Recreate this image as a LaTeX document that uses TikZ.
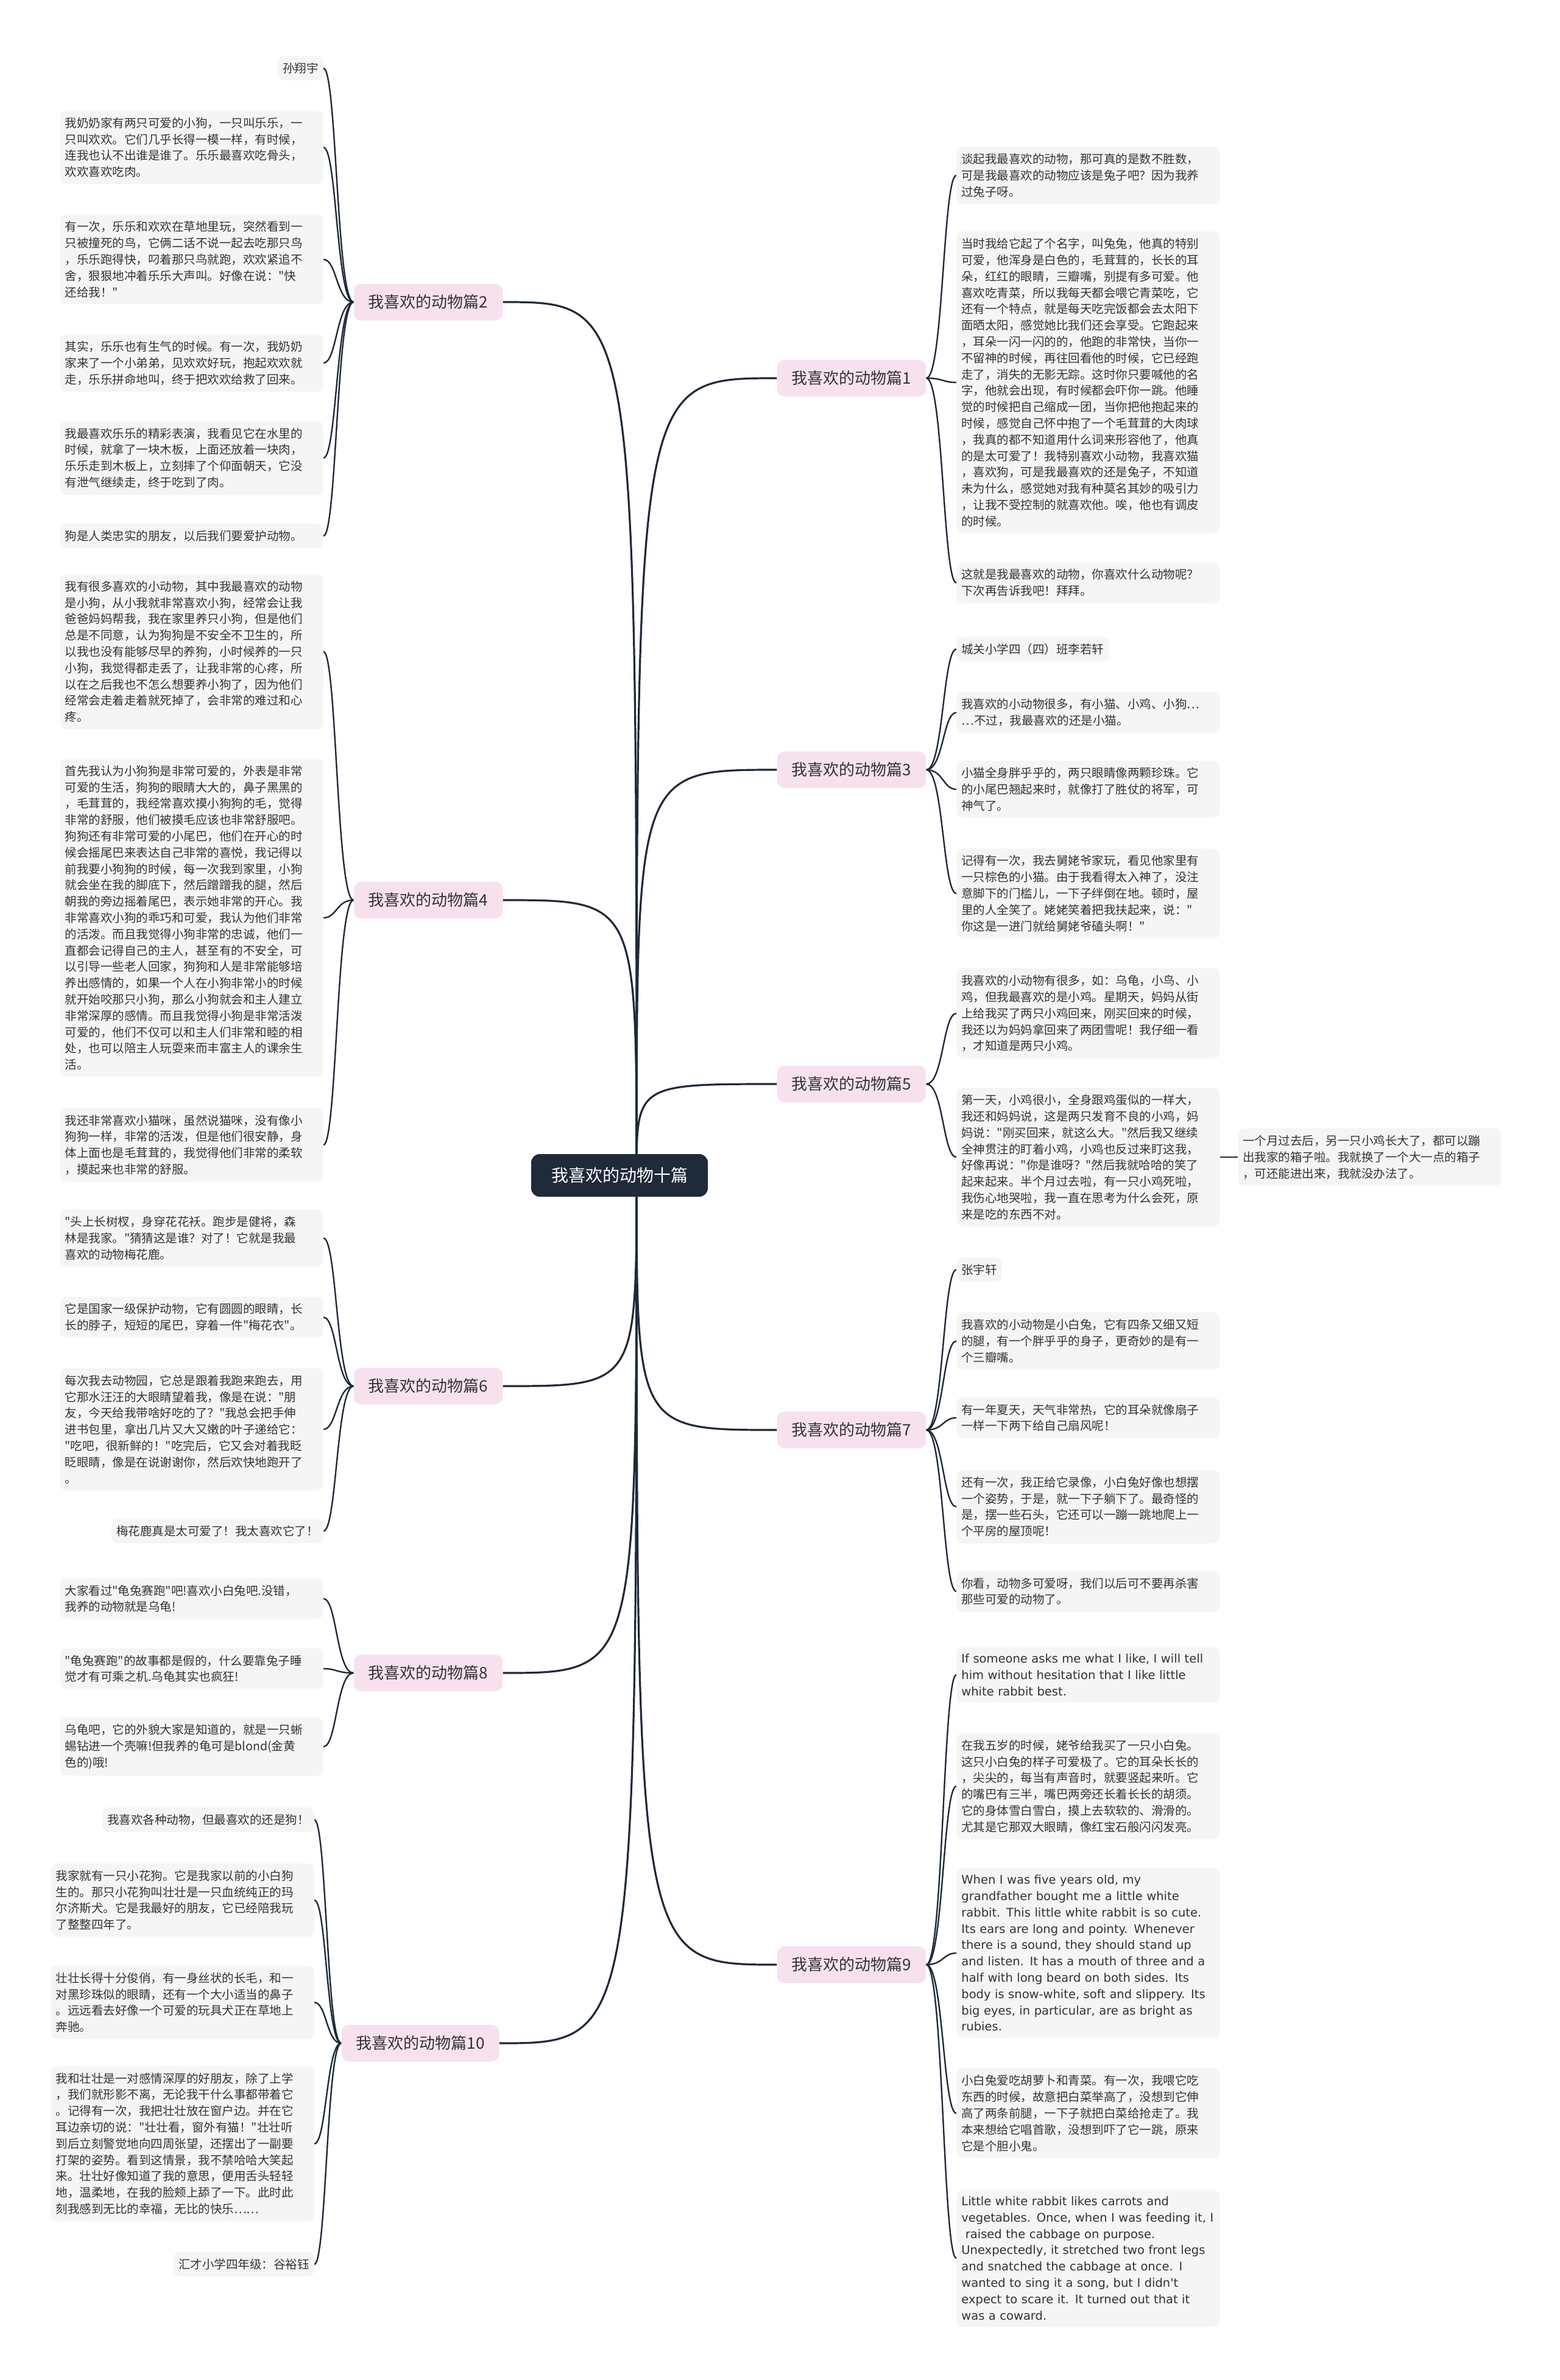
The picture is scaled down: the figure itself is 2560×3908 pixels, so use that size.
\documentclass[tikz,border=0pt]{standalone}
\usepackage{fontspec}
\setmainfont{Noto Sans CJK SC}[Ligatures=TeXOff]
\newfontfamily\enfont{DejaVu Sans}[Ligatures=TeXOff]
\usetikzlibrary{backgrounds}
\definecolor{inkc}{HTML}{1F2A3A}
\definecolor{pinkc}{HTML}{F7E1EF}
\definecolor{leafc}{HTML}{F5F5F5}
\definecolor{textc}{HTML}{333333}

\begin{document}
\begin{tikzpicture}[x=0.5pt,y=-0.5pt,
  root/.style={fill=inkc,text=white,rounded corners=7pt,minimum width=145pt,minimum height=35pt,font=\fontsize{14pt}{17pt}\selectfont},
  branch/.style={fill=pinkc,text=textc,rounded corners=6pt,inner xsep=12pt,minimum height=30pt,font=\fontsize{13pt}{16pt}\selectfont},
  leaf/.style={fill=leafc,text=textc,rounded corners=5pt,inner xsep=4pt,inner ysep=5.5pt,font=\fontsize{9.75pt}{13.4pt}\selectfont},
  para/.style={leaf,text width=208pt,align=left},
  engl/.style={para,font=\enfont\fontsize{9.75pt}{13.4pt}\selectfont},
  rootlink/.style={draw=inkc,line width=1.6pt},
  leaflink/.style={draw=inkc,line width=1.2pt}]
\useasboundingbox (0,0) rectangle (2560,3908);
% centre
\node[root] (root) at (1017,1930) {我喜欢的动物十篇};
\coordinate (hub) at (1045,1930);
% branches, left side
\node[branch] (b2) at (703,496) {我喜欢的动物篇2};
\node[branch] (b4) at (703,1478) {我喜欢的动物篇4};
\node[branch] (b6) at (703,2276) {我喜欢的动物篇6};
\node[branch] (b8) at (703,2747) {我喜欢的动物篇8};
\node[branch] (b10) at (690,3355) {我喜欢的动物篇10};
% branches, right side
\node[branch] (b1) at (1398,621) {我喜欢的动物篇1};
\node[branch] (b3) at (1398,1264) {我喜欢的动物篇3};
\node[branch] (b5) at (1398,1780) {我喜欢的动物篇5};
\node[branch] (b7) at (1398,2348) {我喜欢的动物篇7};
\node[branch] (b9) at (1398,3226) {我喜欢的动物篇9};
% leaves of 篇2
\node[leaf,anchor=east] (l2a) at (531,112) {孙翔宇};
\node[para,anchor=east] (l2b) at (531,242) {我奶奶家有两只可爱的小狗，一只叫乐乐，一\\只叫欢欢。它们几乎长得一模一样，有时候，\\连我也认不出谁是谁了。乐乐最喜欢吃骨头，\\欢欢喜欢吃肉。};
\node[para,anchor=east] (l2c) at (531,426) {有一次，乐乐和欢欢在草地里玩，突然看到一\\只被撞死的鸟，它俩二话不说一起去吃那只鸟\\，乐乐跑得快，叼着那只鸟就跑，欢欢紧追不\\舍，狠狠地冲着乐乐大声叫。好像在说："快\\还给我！"};
\node[para,anchor=east] (l2d) at (531,596) {其实，乐乐也有生气的时候。有一次，我奶奶\\家来了一个小弟弟，见欢欢好玩，抱起欢欢就\\走，乐乐拼命地叫，终于把欢欢给救了回来。};
\node[para,anchor=east] (l2e) at (531,752) {我最喜欢乐乐的精彩表演，我看见它在水里的\\时候，就拿了一块木板，上面还放着一块肉，\\乐乐走到木板上，立刻摔了个仰面朝天，它没\\有泄气继续走，终于吃到了肉。};
\node[para,anchor=east] (l2f) at (531,880) {狗是人类忠实的朋友，以后我们要爱护动物。};
% leaves of 篇4
\node[para,anchor=east] (l4a) at (531,1070) {我有很多喜欢的小动物，其中我最喜欢的动物\\是小狗，从小我就非常喜欢小狗，经常会让我\\爸爸妈妈帮我，我在家里养只小狗，但是他们\\总是不同意，认为狗狗是不安全不卫生的，所\\以我也没有能够尽早的养狗，小时候养的一只\\小狗，我觉得都走丢了，让我非常的心疼，所\\以在之后我也不怎么想要养小狗了，因为他们\\经常会走着走着就死掉了，会非常的难过和心\\疼。};
\node[para,anchor=east] (l4b) at (531,1507) {首先我认为小狗狗是非常可爱的，外表是非常\\可爱的生活，狗狗的眼睛大大的，鼻子黑黑的\\，毛茸茸的，我经常喜欢摸小狗狗的毛，觉得\\非常的舒服，他们被摸毛应该也非常舒服吧。\\狗狗还有非常可爱的小尾巴，他们在开心的时\\候会摇尾巴来表达自己非常的喜悦，我记得以\\前我要小狗狗的时候，每一次我到家里，小狗\\就会坐在我的脚底下，然后蹭蹭我的腿，然后\\朝我的旁边摇着尾巴，表示她非常的开心。我\\非常喜欢小狗的乖巧和可爱，我认为他们非常\\的活泼。而且我觉得小狗非常的忠诚，他们一\\直都会记得自己的主人，甚至有的不安全，可\\以引导一些老人回家，狗狗和人是非常能够培\\养出感情的，如果一个人在小狗非常小的时候\\就开始咬那只小狗，那么小狗就会和主人建立\\非常深厚的感情。而且我觉得小狗是非常活泼\\可爱的，他们不仅可以和主人们非常和睦的相\\处，也可以陪主人玩耍来而丰富主人的课余生\\活。};
\node[para,anchor=east] (l4c) at (531,1880) {我还非常喜欢小猫咪，虽然说猫咪，没有像小\\狗狗一样，非常的活泼，但是他们很安静，身\\体上面也是毛茸茸的，我觉得他们非常的柔软\\，摸起来也非常的舒服。};
% leaves of 篇6
\node[para,anchor=east] (l6a) at (531,2033) {"头上长树杈，身穿花花袄。跑步是健将，森\\林是我家。"猜猜这是谁？对了！它就是我最\\喜欢的动物梅花鹿。};
\node[para,anchor=east] (l6b) at (531,2163) {它是国家一级保护动物，它有圆圆的眼睛，长\\长的脖子，短短的尾巴，穿着一件"梅花衣"。};
\node[para,anchor=east] (l6c) at (531,2347) {每次我去动物园，它总是跟着我跑来跑去，用\\它那水汪汪的大眼睛望着我，像是在说："朋\\友，今天给我带啥好吃的了？"我总会把手伸\\进书包里，拿出几片又大又嫩的叶子递给它：\\"吃吧，很新鲜的！"吃完后，它又会对着我眨\\眨眼睛，像是在说谢谢你，然后欢快地跑开了\\。};
\node[leaf,anchor=east] (l6d) at (531,2514) {梅花鹿真是太可爱了！我太喜欢它了！};
% leaves of 篇8
\node[para,anchor=east] (l8a) at (531,2625) {大家看过"龟兔赛跑"吧!喜欢小白兔吧.没错，\\我养的动物就是乌龟!};
\node[para,anchor=east] (l8b) at (531,2740) {"龟兔赛跑"的故事都是假的，什么要靠兔子睡\\觉才有可乘之机.乌龟其实也疯狂!};
\node[para,anchor=east] (l8c) at (531,2868) {乌龟吧，它的外貌大家是知道的，就是一只蜥\\蜴钻进一个壳嘛!但我养的龟可是blond(金黄\\色的)哦!};
% leaves of 篇10
\node[leaf,anchor=east] (l10a) at (516,2988) {我喜欢各种动物，但最喜欢的还是狗！};
\node[para,anchor=east] (l10b) at (516,3120) {我家就有一只小花狗。它是我家以前的小白狗\\生的。那只小花狗叫壮壮是一只血统纯正的玛\\尔济斯犬。它是我最好的朋友，它已经陪我玩\\了整整四年了。};
\node[para,anchor=east] (l10c) at (516,3288) {壮壮长得十分俊俏，有一身丝状的长毛，和一\\对黑珍珠似的眼睛，还有一个大小适当的鼻子\\。远远看去好像一个可爱的玩具犬正在草地上\\奔驰。};
\node[para,anchor=east] (l10d) at (516,3520) {我和壮壮是一对感情深厚的好朋友，除了上学\\，我们就形影不离，无论我干什么事都带着它\\。记得有一次，我把壮壮放在窗户边。并在它\\耳边亲切的说："壮壮看，窗外有猫！"壮壮听\\到后立刻警觉地向四周张望，还摆出了一副要\\打架的姿势。看到这情景，我不禁哈哈大笑起\\来。壮壮好像知道了我的意思，便用舌头轻轻\\地，温柔地，在我的脸颊上舔了一下。此时此\\刻我感到无比的幸福，无比的快乐……};
\node[leaf,anchor=east] (l10e) at (516,3718) {汇才小学四年级：谷裕钰};
% leaves of 篇1
\node[para,anchor=west] (r1a) at (1570,288) {谈起我最喜欢的动物，那可真的是数不胜数，\\可是我最喜欢的动物应该是兔子吧？因为我养\\过兔子呀。};
\node[para,anchor=west] (r1b) at (1570,628) {当时我给它起了个名字，叫兔兔，他真的特别\\可爱，他浑身是白色的，毛茸茸的，长长的耳\\朵，红红的眼睛，三瓣嘴，别提有多可爱。他\\喜欢吃青菜，所以我每天都会喂它青菜吃，它\\还有一个特点，就是每天吃完饭都会去太阳下\\面晒太阳，感觉她比我们还会享受。它跑起来\\，耳朵一闪一闪的的，他跑的非常快，当你一\\不留神的时候，再往回看他的时候，它已经跑\\走了，消失的无影无踪。这时你只要喊他的名\\字，他就会出现，有时候都会吓你一跳。他睡\\觉的时候把自己缩成一团，当你把他抱起来的\\时候，感觉自己怀中抱了一个毛茸茸的大肉球\\，我真的都不知道用什么词来形容他了，他真\\的是太可爱了！我特别喜欢小动物，我喜欢猫\\，喜欢狗，可是我最喜欢的还是兔子，不知道\\未为什么，感觉她对我有种莫名其妙的吸引力\\，让我不受控制的就喜欢他。唉，他也有调皮\\的时候。};
\node[para,anchor=west] (r1c) at (1570,957) {这就是我最喜欢的动物，你喜欢什么动物呢？\\下次再告诉我吧！拜拜。};
% leaves of 篇3
\node[leaf,anchor=west] (r3a) at (1570,1066) {城关小学四（四）班李若轩};
\node[para,anchor=west] (r3b) at (1570,1170) {我喜欢的小动物很多，有小猫、小鸡、小狗…\\…不过，我最喜欢的还是小猫。};
\node[para,anchor=west] (r3c) at (1570,1296) {小猫全身胖乎乎的，两只眼睛像两颗珍珠。它\\的小尾巴翘起来时，就像打了胜仗的将军，可\\神气了。};
\node[para,anchor=west] (r3d) at (1570,1467) {记得有一次，我去舅姥爷家玩，看见他家里有\\一只棕色的小猫。由于我看得太入神了，没注\\意脚下的门槛儿，一下子绊倒在地。顿时，屋\\里的人全笑了。姥姥笑着把我扶起来，说："\\你这是一进门就给舅姥爷磕头啊！"};
% leaves of 篇5
\node[para,anchor=west] (r5a) at (1570,1664) {我喜欢的小动物有很多，如：乌龟，小鸟、小\\鸡，但我最喜欢的是小鸡。星期天，妈妈从街\\上给我买了两只小鸡回来，刚买回来的时候，\\我还以为妈妈拿回来了两团雪呢！我仔细一看\\，才知道是两只小鸡。};
\node[para,anchor=west] (r5b) at (1570,1900) {第一天，小鸡很小，全身跟鸡蛋似的一样大，\\我还和妈妈说，这是两只发育不良的小鸡，妈\\妈说："刚买回来，就这么大。"然后我又继续\\全神贯注的盯着小鸡，小鸡也反过来盯这我，\\好像再说："你是谁呀？"然后我就哈哈的笑了\\起来起来。半个月过去啦，有一只小鸡死啦，\\我伤心地哭啦，我一直在思考为什么会死，原\\来是吃的东西不对。};
\node[para,anchor=west] (r5c) at (2032,1900) {一个月过去后，另一只小鸡长大了，都可以蹦\\出我家的箱子啦。我就换了一个大一点的箱子\\，可还能进出来，我就没办法了。};
% leaves of 篇7
\node[leaf,anchor=west] (r7a) at (1570,2085) {张宇轩};
\node[para,anchor=west] (r7b) at (1570,2202) {我喜欢的小动物是小白兔，它有四条又细又短\\的腿，有一个胖乎乎的身子，更奇妙的是有一\\个三瓣嘴。};
\node[para,anchor=west] (r7c) at (1570,2328) {有一年夏天，天气非常热，它的耳朵就像扇子\\一样一下两下给自己扇风呢！};
\node[para,anchor=west] (r7d) at (1570,2474) {还有一次，我正给它录像，小白兔好像也想摆\\一个姿势，于是，就一下子躺下了。最奇怪的\\是，摆一些石头，它还可以一蹦一跳地爬上一\\个平房的屋顶呢！};
\node[para,anchor=west] (r7e) at (1570,2613) {你看，动物多可爱呀，我们以后可不要再杀害\\那些可爱的动物了。};
% leaves of 篇9
\node[engl,anchor=west] (r9a) at (1570,2750) {If someone asks me what I like, I will tell\\him without hesitation that I like little\\white rabbit best.};
\node[para,anchor=west] (r9b) at (1570,2933) {在我五岁的时候，姥爷给我买了一只小白兔。\\这只小白兔的样子可爱极了。它的耳朵长长的\\，尖尖的，每当有声音时，就要竖起来听。它\\的嘴巴有三半，嘴巴两旁还长着长长的胡须。\\它的身体雪白雪白，摸上去软软的、滑滑的。\\尤其是它那双大眼睛，像红宝石般闪闪发亮。};
\node[engl,anchor=west] (r9c) at (1570,3207) {When I was five years old, my\\grandfather bought me a little white\\rabbit. This little white rabbit is so cute.\\Its ears are long and pointy. Whenever\\there is a sound, they should stand up\\and listen. It has a mouth of three and a\\half with long beard on both sides. Its\\body is snow-white, soft and slippery. Its\\big eyes, in particular, are as bright as\\rubies.};
\node[para,anchor=west] (r9d) at (1570,3470) {小白兔爱吃胡萝卜和青菜。有一次，我喂它吃\\东西的时候，故意把白菜举高了，没想到它伸\\高了两条前腿，一下子就把白菜给抢走了。我\\本来想给它唱首歌，没想到吓了它一跳，原来\\它是个胆小鬼。};
\node[engl,anchor=west] (r9e) at (1570,3708) {Little white rabbit likes carrots and\\vegetables. Once, when I was feeding it, I\\\mbox{}\ raised the cabbage on purpose.\\Unexpectedly, it stretched two front legs\\and snatched the cabbage at once. I\\wanted to sing it a song, but I didn't\\expect to scare it. It turned out that it\\was a coward.};
% connectors
\begin{scope}[on background layer]
\fill[white] (0,0) rectangle (2560,3908);
\foreach \b in {b2,b4,b6,b8,b10}
  \draw[rootlink] (hub) .. controls (hub |- \b.east) .. (\b.east);
\foreach \b in {b1,b3,b5,b7,b9}
  \draw[rootlink] (hub) .. controls (hub |- \b.west) .. (\b.west);
\foreach \l in {l2a,l2b,l2c,l2d,l2e,l2f}
  \draw[leaflink] (b2.west) .. controls +(-28,0) and +(22,0) .. (\l.east);
\foreach \l in {l4a,l4b,l4c}
  \draw[leaflink] (b4.west) .. controls +(-28,0) and +(22,0) .. (\l.east);
\foreach \l in {l6a,l6b,l6c,l6d}
  \draw[leaflink] (b6.west) .. controls +(-28,0) and +(22,0) .. (\l.east);
\foreach \l in {l8a,l8b,l8c}
  \draw[leaflink] (b8.west) .. controls +(-28,0) and +(22,0) .. (\l.east);
\foreach \l in {l10a,l10b,l10c,l10d,l10e}
  \draw[leaflink] (b10.west) .. controls +(-24,0) and +(20,0) .. (\l.east);
\foreach \l in {r1a,r1b,r1c}
  \draw[leaflink] (b1.east) .. controls +(28,0) and +(-22,0) .. (\l.west);
\foreach \l in {r3a,r3b,r3c,r3d}
  \draw[leaflink] (b3.east) .. controls +(28,0) and +(-22,0) .. (\l.west);
\foreach \l in {r5a,r5b}
  \draw[leaflink] (b5.east) .. controls +(28,0) and +(-22,0) .. (\l.west);
\foreach \l in {r7a,r7b,r7c,r7d,r7e}
  \draw[leaflink] (b7.east) .. controls +(28,0) and +(-22,0) .. (\l.west);
\foreach \l in {r9a,r9b,r9c,r9d,r9e}
  \draw[leaflink] (b9.east) .. controls +(28,0) and +(-22,0) .. (\l.west);
\draw[leaflink] (r5b.east) -- (r5c.west);
\end{scope}
\end{tikzpicture}
\end{document}
